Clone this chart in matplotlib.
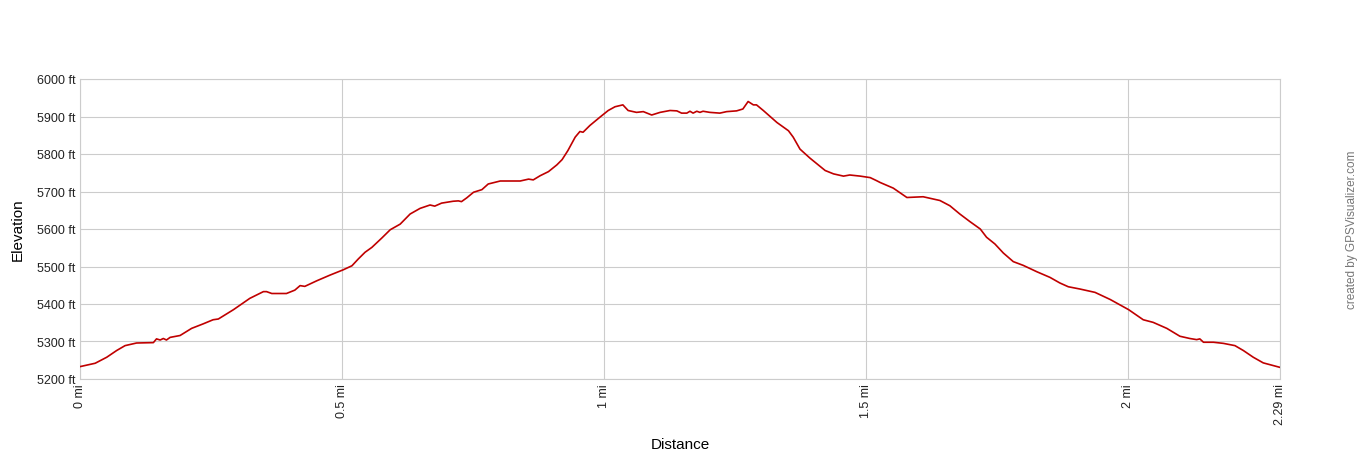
import matplotlib.pyplot as plt

plt.rcParams['font.family'] = ['Liberation Sans', 'DejaVu Sans']

# distance along track (mi) and elevation (ft)
distance_mi = [0.000, 0.029, 0.051, 0.070, 0.086, 0.108, 0.140, 0.146, 0.153, 0.159,
               0.165, 0.172, 0.191, 0.213, 0.235, 0.254, 0.264, 0.293, 0.324, 0.350,
               0.356, 0.366, 0.394, 0.410, 0.420, 0.429, 0.452, 0.477, 0.502, 0.519,
               0.531, 0.544, 0.557, 0.576, 0.592, 0.611, 0.630, 0.649, 0.668, 0.677,
               0.690, 0.712, 0.722, 0.728, 0.738, 0.751, 0.767, 0.779, 0.802, 0.840,
               0.856, 0.865, 0.878, 0.894, 0.910, 0.920, 0.931, 0.945, 0.954, 0.960,
               0.973, 0.992, 1.008, 1.021, 1.036, 1.046, 1.062, 1.075, 1.091, 1.107,
               1.126, 1.139, 1.148, 1.158, 1.164, 1.170, 1.177, 1.183, 1.189, 1.202,
               1.221, 1.234, 1.253, 1.265, 1.275, 1.285, 1.291, 1.304, 1.330, 1.352,
               1.361, 1.374, 1.393, 1.422, 1.438, 1.457, 1.469, 1.489, 1.508, 1.520,
               1.527, 1.552, 1.578, 1.609, 1.622, 1.641, 1.660, 1.679, 1.698, 1.718,
               1.730, 1.746, 1.762, 1.781, 1.800, 1.826, 1.851, 1.870, 1.886, 1.908,
               1.937, 1.966, 2.001, 2.029, 2.048, 2.074, 2.099, 2.118, 2.131, 2.137,
               2.144, 2.163, 2.182, 2.204, 2.220, 2.239, 2.258, 2.290]
elevation_ft = [5233, 5242, 5258, 5276, 5289, 5296, 5297, 5307, 5304, 5308,
                5304, 5311, 5316, 5335, 5347, 5358, 5360, 5385, 5415, 5433,
                5433, 5428, 5428, 5437, 5449, 5447, 5462, 5477, 5491, 5502,
                5520, 5538, 5551, 5576, 5598, 5613, 5640, 5655, 5664, 5661,
                5669, 5674, 5675, 5673, 5683, 5698, 5705, 5720, 5728, 5728,
                5733, 5731, 5742, 5753, 5771, 5785, 5809, 5845, 5860, 5858,
                5876, 5898, 5916, 5926, 5931, 5916, 5911, 5913, 5904, 5911,
                5916, 5915, 5909, 5909, 5914, 5909, 5914, 5911, 5914, 5911,
                5909, 5913, 5915, 5920, 5940, 5931, 5931, 5916, 5884, 5862,
                5845, 5813, 5789, 5756, 5747, 5741, 5744, 5741, 5737, 5729,
                5724, 5709, 5684, 5686, 5682, 5676, 5662, 5640, 5620, 5600,
                5578, 5560, 5536, 5513, 5503, 5486, 5471, 5456, 5446, 5440,
                5431, 5412, 5385, 5358, 5351, 5335, 5314, 5308, 5305, 5307,
                5298, 5298, 5295, 5289, 5276, 5258, 5243, 5231]

x_ticks = [0, 0.5, 1, 1.5, 2, 2.29]
x_tick_labels = ['0 mi', '0.5 mi', '1 mi', '1.5 mi', '2 mi', '2.29 mi']
y_ticks = [5200, 5300, 5400, 5500, 5600, 5700, 5800, 5900, 6000]
y_tick_labels = [f'{v} ft' for v in y_ticks]

fig = plt.figure(figsize=(13.6, 4.6), dpi=100)
ax = fig.add_axes([80 / 1360, 1 - 380 / 460, 1200 / 1360, 300 / 460])

ax.plot(distance_mi, elevation_ft, color='#c00000', linewidth=1.2, zorder=3)

ax.set_xlim(0, 2.29)
ax.set_ylim(5200, 6000)
ax.set_xticks(x_ticks)
ax.set_xticklabels(x_tick_labels, rotation=90, fontsize=9, color='#222222')
ax.set_yticks(y_ticks)
ax.set_yticklabels(y_tick_labels, fontsize=9, color='#222222')
ax.tick_params(length=0, pad=3)

ax.grid(True, color='#cccccc', linewidth=0.8)
for s in ax.spines.values():
    s.set_color('#cccccc')
    s.set_linewidth(0.8)

ax.set_xlabel('Distance', fontsize=11, labelpad=9)
ax.set_ylabel('Elevation', fontsize=11, labelpad=9)

fig.text(1352 / 1360, 1 - 230 / 460, 'created by GPSVisualizer.com', rotation=90,
         ha='center', va='center', fontsize=8.5, color='#777777')

plt.savefig('out.png', dpi=100)
